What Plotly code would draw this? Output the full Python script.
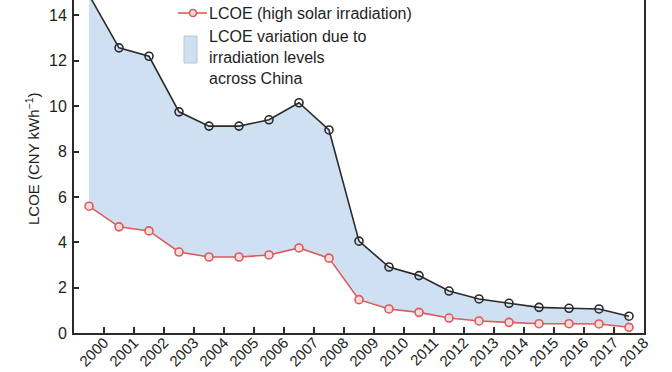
import plotly.graph_objects as go

years = list(range(2000, 2019))
lcoe_low = [14.9, 12.57, 12.2, 9.75, 9.12, 9.12, 9.4, 10.15, 8.95, 4.05, 2.91, 2.53,
            1.85, 1.5, 1.31, 1.13, 1.09, 1.06, 0.74]
lcoe_high = [5.59, 4.68, 4.5, 3.57, 3.35, 3.35, 3.44, 3.75, 3.3, 1.47, 1.06, 0.91,
             0.66, 0.53, 0.47, 0.41, 0.41, 0.40, 0.25]
tick_labels = [str(y) for y in years]
y_ticks = [0, 2, 4, 6, 8, 10, 12, 14]

name_low = "LCOE (low solar irradiation)"
name_high = "LCOE (high solar irradiation)"
name_fill = "LCOE variation due to<br>irradiation levels<br>across China"

FONT = "Liberation Sans, Arial, Helvetica, sans-serif"
TXT = "#1e1e1e"
BLACK = "#2a2a2a"
RED = "#dc5a5a"
FILL = "#cfe0f2"

fig = go.Figure()
fig.add_trace(go.Scatter(
    x=years, y=lcoe_high, mode="lines+markers", name=name_high,
    line=dict(color=RED, width=1.6),
    marker=dict(symbol="circle", size=8, color="#f7dada", line=dict(color=RED, width=1.6)),
    showlegend=False, cliponaxis=True,
))
fig.add_trace(go.Scatter(
    x=years, y=lcoe_low, mode="lines+markers", name=name_low,
    fill="tonexty", fillcolor=FILL,
    line=dict(color=BLACK, width=1.6),
    marker=dict(symbol="circle-open", size=8, color=BLACK, line=dict(color=BLACK, width=1.6)),
    showlegend=False, cliponaxis=True,
))

L, R, T, B = 74, 28, 0, 39
W, H = 672, 372
pw, ph = W - L - R, H - T - B

def px_x(px):
    return (px - L) / pw

def px_y(py):
    return (T + ph - py) / ph

shapes = [
    dict(type="line", xref="paper", yref="paper", x0=px_x(178), x1=px_x(207),
         y0=px_y(13), y1=px_y(13), line=dict(color=RED, width=1.6)),
    dict(type="circle", xref="paper", yref="paper", xsizemode="pixel", ysizemode="pixel",
         xanchor=px_x(193), yanchor=px_y(13), x0=-3.5, x1=3.5, y0=-3.5, y1=3.5,
         fillcolor="#f7dada", line=dict(color=RED, width=1.6)),
    dict(type="line", xref="paper", yref="paper", x0=px_x(178), x1=px_x(207),
         y0=px_y(-10), y1=px_y(-10), line=dict(color=BLACK, width=1.6)),
    dict(type="rect", xref="paper", yref="paper", x0=px_x(184), x1=px_x(197),
         y0=px_y(63), y1=px_y(36), fillcolor=FILL, line=dict(color="#b4c8de", width=1)),
]

annotations = [
    dict(text=name_low, xref="paper", yref="paper", x=px_x(207), y=px_y(-10),
         xanchor="left", yanchor="middle", showarrow=False,
         font=dict(family=FONT, size=16, color=TXT)),
    dict(text=name_high, xref="paper", yref="paper", x=px_x(207), y=px_y(13),
         xanchor="left", yanchor="middle", showarrow=False,
         font=dict(family=FONT, size=16, color=TXT)),
    dict(text=name_fill, xref="paper", yref="paper", x=px_x(207), y=px_y(57),
         xanchor="left", yanchor="middle", align="left", showarrow=False,
         font=dict(family=FONT, size=16, color=TXT)),
    dict(text="LCOE (CNY kWh<sup>\u22121</sup>)", xref="paper", yref="paper",
         x=px_x(32), y=px_y(159), xanchor="center", yanchor="middle",
         textangle=-90, showarrow=False,
         font=dict(family=FONT, size=15, color=TXT)),
]

fig.update_layout(
    width=W, height=H,
    margin=dict(l=L, r=R, t=T, b=B, autoexpand=False),
    paper_bgcolor="white", plot_bgcolor="white",
    font=dict(family=FONT, size=15, color=TXT),
    showlegend=False,
    shapes=shapes, annotations=annotations,
    xaxis=dict(
        range=[1999.5, 2018.5], tickmode="array",
        tickvals=[y + 0.5 for y in years], ticktext=tick_labels,
        tickangle=-45, ticks="inside", ticklen=6, tickwidth=1.5, tickcolor=BLACK,
        showline=True, linecolor=BLACK, linewidth=2, mirror=False,
        showgrid=False, zeroline=False, ticklabelstandoff=-7,
        tickfont=dict(family=FONT, size=15, color=TXT),
    ),
    yaxis=dict(
        range=[0, 14.68], tickmode="array", tickvals=y_ticks,
        ticks="inside", ticklen=5, tickwidth=1.5, tickcolor=BLACK,
        showline=True, linecolor=BLACK, linewidth=2, mirror=True,
        showgrid=False, zeroline=False, ticklabelstandoff=2,
        tickfont=dict(family=FONT, size=16, color=TXT),
    ),
)

fig.write_html(
    "out.html",
    config={"displayModeBar": False},
    post_script="document.body.style.margin='0';document.body.style.overflow='hidden';",
)
